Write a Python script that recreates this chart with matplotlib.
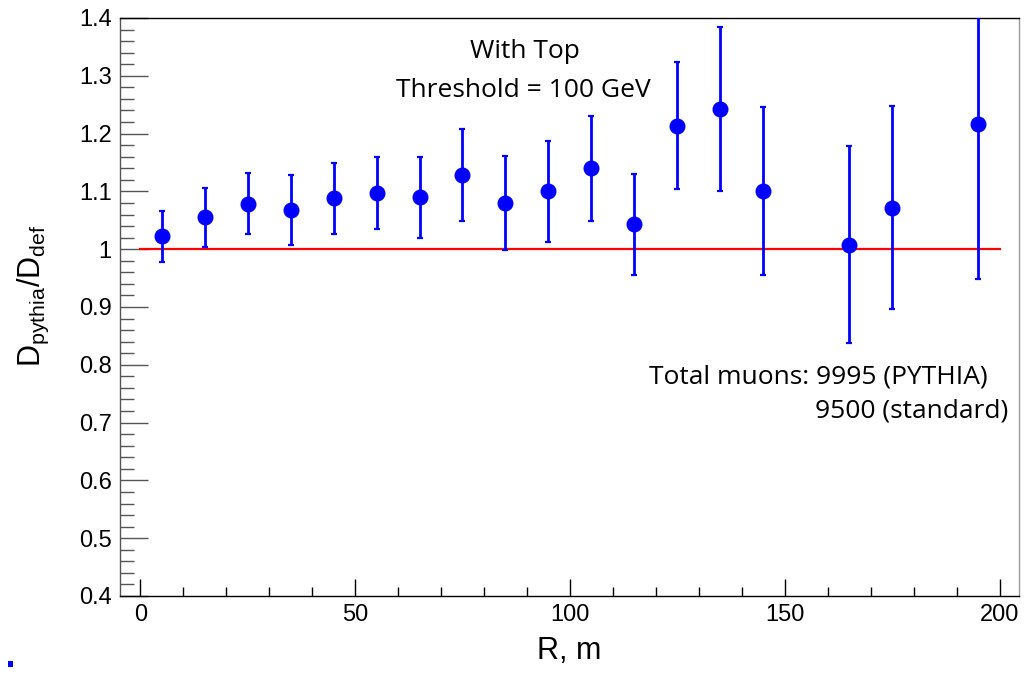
import matplotlib
matplotlib.use("Agg")
import matplotlib.pyplot as plt
from matplotlib.ticker import MultipleLocator, FixedLocator
from matplotlib.patches import Rectangle

# Data
r_values = [5, 15, 25, 35, 45, 55, 65, 75, 85, 95, 105, 115, 125, 135, 145, 165, 175, 195]
ratio = [1.022, 1.055, 1.079, 1.068, 1.088, 1.097, 1.090, 1.128, 1.080, 1.100,
         1.140, 1.043, 1.214, 1.242, 1.101, 1.008, 1.072, 1.216]
ratio_err = [0.044, 0.051, 0.052, 0.060, 0.061, 0.062, 0.070, 0.080, 0.082, 0.088,
             0.091, 0.087, 0.110, 0.142, 0.145, 0.170, 0.176, 0.268]
ref_x = [0, 200]
ref_y = [1.0, 1.0]
y_ticks = [0.4, 0.5, 0.6, 0.7, 0.8, 0.9, 1.0, 1.1, 1.2, 1.3, 1.4]
y_tick_labels = ["0.4", "0.5", "0.6", "0.7", "0.8", "0.9", "1", "1.1", "1.2", "1.3", "1.4"]
x_ticks = [0, 50, 100, 150, 200]

fig = plt.figure(figsize=(10.24, 6.73), dpi=100)
ax = fig.add_axes([120/1024, 77/673, 899/1024, 578/673])

ax.plot(ref_x, ref_y, color="red", lw=1.6, zorder=2)
ax.errorbar(r_values, ratio, yerr=ratio_err, fmt="o", color="blue", ms=10.5,
            elinewidth=2.0, capsize=2, capthick=1.6, zorder=3, clip_on=True)

ax.set_xlim(-4.7, 204.5)
ax.set_ylim(0.4, 1.4)

ax.yaxis.set_major_locator(FixedLocator(y_ticks))
ax.set_yticklabels(y_tick_labels)
ax.yaxis.set_minor_locator(MultipleLocator(0.02))
ax.xaxis.set_major_locator(FixedLocator(x_ticks))
ax.xaxis.set_minor_locator(MultipleLocator(10))

for lab in ax.get_xticklabels() + ax.get_yticklabels():
    lab.set_fontfamily("Liberation Sans")
    lab.set_fontsize(17)

ax.tick_params(axis="y", which="major", direction="in", length=20, width=1, color="#555555", pad=6)
ax.tick_params(axis="y", which="minor", direction="in", length=10, width=1, color="#555555")
ax.tick_params(axis="x", which="major", direction="in", length=12, width=1, pad=6)
ax.tick_params(axis="x", which="minor", direction="in", length=6.5, width=1)
ax.tick_params(top=False, right=False, which="both")

for s in ax.spines.values():
    s.set_linewidth(1.0)
    s.set_color("black")
ax.spines["left"].set_color("#555555")
ax.spines["right"].set_color("#999999")

ax.set_xlabel("R, m", fontfamily="Liberation Sans", fontsize=22)
ax.xaxis.set_label_coords(0.5, -0.07)
ax.set_ylabel(r"$\mathregular{D_{pythia}/D_{def}}$", fontfamily="Liberation Sans", fontsize=22)
ax.yaxis.set_label_coords(-0.077, 0.52)

txt_kw = dict(fontfamily="Open Sans", fontsize=19, va="baseline")
fig.text(525/1024, 1 - 58/673, "With Top", ha="center", **txt_kw)
fig.text(523/1024, 1 - 97/673, "Threshold = 100 GeV", ha="center", **txt_kw)
fig.text(988/1024, 1 - 383/673, "Total muons: 9995 (PYTHIA)", ha="right", **txt_kw)
fig.text(1008/1024, 1 - 418/673, "9500 (standard)", ha="right", **txt_kw)

fig.patches.append(Rectangle((8/1024, 6/673), 5/1024, 6/673, transform=fig.transFigure,
                             facecolor="blue", edgecolor="none"))

fig.savefig("out.png", dpi=100)
